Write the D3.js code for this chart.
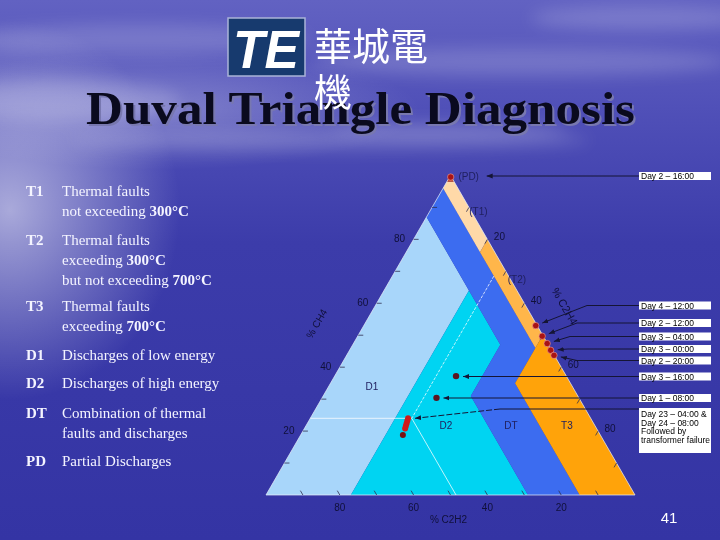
<!DOCTYPE html>
<html><head><meta charset="utf-8">
<script src="https://cdn.jsdelivr.net/npm/d3@7"></script>
<style>html,body{margin:0;padding:0;background:#3434a4;} svg{display:block;}</style>
</head><body>
<svg id="c" width="720" height="540"></svg>
<script>
// ---------------- DATA ----------------
const legendCodes = ["T1","T2","T3","D1","D2","DT","PD"];
const legendTexts = [
  ["Thermal faults","not exceeding |300°C"],
  ["Thermal faults","exceeding |300°C","but not exceeding |700°C"],
  ["Thermal faults","exceeding |700°C"],
  ["Discharges of low energy"],
  ["Discharges of high energy"],
  ["Combination of thermal","faults and discharges"],
  ["Partial Discharges"]
];
// Duval zones, vertices as [CH4 %, C2H4 %]  (C2H2 = 100 - CH4 - C2H4)
const zoneNames = ["D1","D2","DT","T1","T2","T3","PD"];
const zoneD1 = [[87,0],[0,0],[0,23],[64,23]];
const zoneD2 = [[64,23],[0,23],[0,71],[31,40],[47,40]];
const zoneDT = [[96,0],[87,0],[64,23],[47,40],[31,40],[0,71],[0,85],[35,50],[46,50]];
const zoneT1 = [[98,2],[80,20],[76,20],[96,0],[98,0]];
const zoneT2 = [[80,20],[50,50],[46,50],[76,20]];
const zoneT3 = [[50,50],[0,100],[0,85],[35,50]];
const zonePD = [[98,0],[100,0],[98,2]];
// overlay reference lines [CH4, C2H4]
const refLine1 = [[24,0],[24,27.5]];
const refLine2 = [[68.5,27.5],[24,27.5]];
const refLine3 = [[24,27.5],[0,51.5]];
// readings
const readingLabels = ["Day 2 – 16:00","Day 4 – 12:00","Day 2 – 12:00","Day 3 – 04:00","Day 3 – 00:00","Day 2 – 20:00","Day 3 – 16:00","Day 1 – 08:00"];
const readingCH4  = [99.5, 53.0, 49.7, 47.4, 45.3, 43.7, 37.2, 30.4];
const readingC2H4 = [0.3, 46.6, 50.0, 52.5, 54.5, 56.2, 32.9, 31.0];
const failureCH4  = [24.0, 23.2, 22.4, 21.6, 20.8, 18.8];
const failureC2H4 = [26.5, 26.7, 26.9, 27.1, 27.3, 27.7];
const failureLabel = ["Day 23 – 04:00 &","Day 24 – 08:00","Followed by","transformer failure"];
const axisTicks = [20,40,60,80];
const minorTicks = [10,20,30,40,50,60,70,80,90];

// ---------------- DRAW ----------------
const svg = d3.select("#c");
const defs = svg.append("defs");

// background
const bg = defs.append("linearGradient").attr("id","bg").attr("x1",0).attr("y1",0).attr("x2",0).attr("y2",1);
[[0,"#6262c2"],[0.2,"#5050b8"],[0.45,"#3c3caa"],[1,"#3434a4"]].forEach(s=>bg.append("stop").attr("offset",s[0]).attr("stop-color",s[1]));
const glow = defs.append("radialGradient").attr("id","glow");
glow.append("stop").attr("offset",0).attr("stop-color","#ffffff").attr("stop-opacity",0.55);
glow.append("stop").attr("offset",1).attr("stop-color","#ffffff").attr("stop-opacity",0);
defs.append("filter").attr("id","blur").attr("x","-50%").attr("y","-50%").attr("width","200%").attr("height","200%")
  .append("feGaussianBlur").attr("stdDeviation",8);
svg.append("rect").attr("width",720).attr("height",540).attr("fill","url(#bg)");
svg.append("ellipse").attr("cx",10).attr("cy",210).attr("rx",170).attr("ry",190).attr("fill","url(#glow)");
svg.append("ellipse").attr("cx",160).attr("cy",110).attr("rx",260).attr("ry",60).attr("fill","url(#glow)").attr("opacity",0.5);
const clouds = [[140,40,170,16],[520,62,210,14],[640,18,110,12],[330,140,260,10],[60,100,120,20],[450,130,120,8]];
svg.append("g").attr("filter","url(#blur)").selectAll("ellipse").data(clouds).join("ellipse")
  .attr("cx",d=>d[0]).attr("cy",d=>d[1]).attr("rx",d=>d[2]).attr("ry",d=>d[3])
  .attr("fill","#ffffff").attr("opacity",0.17);

// Title
const title = "Duval Triangle Diagnosis";
svg.append("text").attr("x",88).attr("y",126).attr("font-family","'Liberation Serif', serif").attr("font-weight","bold")
  .attr("font-size",46).attr("fill","#7878b0").attr("textLength",549).attr("lengthAdjust","spacingAndGlyphs").text(title);
svg.append("text").attr("x",86).attr("y",124).attr("font-family","'Liberation Serif', serif").attr("font-weight","bold")
  .attr("font-size",46).attr("fill","#0a0a1e").attr("textLength",549).attr("lengthAdjust","spacingAndGlyphs").text(title);

// Logo
svg.append("rect").attr("x",228).attr("y",18).attr("width",77).attr("height",58).attr("fill","#173a6e").attr("stroke","#aab4d8").attr("stroke-width",1.5);
svg.append("text").attr("x",266).attr("y",68).attr("text-anchor","middle").attr("font-family","'Liberation Sans', Arial").attr("font-weight","bold")
  .attr("font-style","italic").attr("font-size",54).attr("fill","#ffffff").attr("textLength",66).attr("lengthAdjust","spacingAndGlyphs").text("TE");
svg.append("text").attr("x",314).attr("y",60).attr("font-family","'Noto Sans CJK TC', sans-serif").attr("font-size",38).attr("fill","#ffffff").text("華城電");
svg.append("text").attr("x",314).attr("y",106).attr("font-family","'Noto Sans CJK TC', sans-serif").attr("font-size",38).attr("fill","#ffffff").text("機");

// Legend
const legG = svg.append("g").attr("font-family","'Liberation Serif', serif").attr("font-size",15).attr("fill","#f4f4ff");
const legY = [196,245,311,360,388,418,466];
legendCodes.forEach((c,i)=>{
  legG.append("text").attr("x",26).attr("y",legY[i]).attr("font-weight","bold").text(c);
  legendTexts[i].forEach((line,j)=>{
    const t = legG.append("text").attr("x",62).attr("y",legY[i]+j*20);
    const parts = line.split("|");
    t.append("tspan").text(parts[0]);
    if(parts[1]) t.append("tspan").attr("font-weight","bold").text(parts[1]);
  });
});

// Ternary projection
const L=266, R=635, B=495, W=R-L, H=W*Math.sqrt(3)/2;
const xs = d3.scaleLinear().domain([0,100]).range([L,R]);
const ys = d3.scaleLinear().domain([0,100]).range([B,B-H]);
const proj = (ch4,c2h4) => [xs(c2h4 + ch4/2), ys(ch4)];
const line = d3.line().x(d=>proj(d[0],d[1])[0]).y(d=>proj(d[0],d[1])[1]);

const zones = [zoneD1,zoneD2,zoneDT,zoneT1,zoneT2,zoneT3,zonePD];
const zoneColors = {D1:"#a8d6fa",D2:"#00d4f2",DT:"#3c6cf0",T1:"#ffd9a8",T2:"#ffb64a",T3:"#ffa30a",PD:"#c8502a"};
const tri = svg.append("g");
tri.selectAll("path.zone").data(zones).join("path").attr("class","zone")
  .attr("d",d=>line(d)+"Z").attr("fill",(d,i)=>zoneColors[zoneNames[i]]);

// faint reference lines
[refLine1,refLine2,refLine3].forEach((l,i)=>{
  tri.append("path").attr("d",line(l)).attr("fill","none").attr("stroke","#ffffff").attr("stroke-width",1)
    .attr("opacity",0.75).attr("stroke-dasharray",i==1?"3,1.5":null);
});

// triangle border
tri.append("path").attr("d",line([[100,0],[0,100],[0,0]])+"Z").attr("fill","none").attr("stroke","#e8eef8").attr("stroke-width",0.9).attr("opacity",0.8);

// ticks
const tickG = svg.append("g").attr("stroke","#303050").attr("stroke-width",0.8);
const tl = 5;
minorTicks.forEach(v=>{
  let p = proj(v,0); tickG.append("line").attr("x1",p[0]).attr("y1",p[1]).attr("x2",p[0]+tl).attr("y2",p[1]);
  p = proj(100-v,v); tickG.append("line").attr("x1",p[0]).attr("y1",p[1]).attr("x2",p[0]-tl*0.5).attr("y2",p[1]+tl*0.866);
  p = proj(0,100-v); tickG.append("line").attr("x1",p[0]).attr("y1",p[1]).attr("x2",p[0]-tl*0.5).attr("y2",p[1]-tl*0.866);
});
const labG = svg.append("g").attr("font-family","'Liberation Sans', Arial").attr("font-size",10).attr("fill","#10103a").attr("text-anchor","middle");
axisTicks.forEach(v=>{
  let p = proj(v,0); labG.append("text").attr("x",p[0]-14).attr("y",p[1]+3).text(v);
  p = proj(100-v,v); labG.append("text").attr("x",p[0]+12).attr("y",p[1]+1).text(v);
  p = proj(0,100-v); labG.append("text").attr("x",p[0]).attr("y",p[1]+16).text(v);
});
// axis titles
let p = proj(54,0);
labG.append("text").attr("transform",`translate(${p[0]-46},${p[1]+3}) rotate(-60)`).text("% CH4");
p = proj(59.4,40.6);
labG.append("text").attr("transform",`translate(${p[0]+36},${p[1]+3}) rotate(60)`).attr("font-size",11).text("% C2H4");
p = proj(0,50);
labG.append("text").attr("x",p[0]-2).attr("y",p[1]+28).text("% C2H2");

// zone labels (ternary positions)
const zoneLabelPos = [["D1",34,11.7],["D2",21.9,37.8],["DT",21.9,55.4],["T3",21.9,70.6],["(T1)",88.9,13.1],["(T2)",67.6,34.2]];
zoneLabelPos.forEach(z=>{
  const q = proj(z[1],z[2]);
  labG.append("text").attr("x",q[0]).attr("y",q[1]+4).attr("fill","#202060").text(z[0]);
});
const pdp = proj(readingCH4[0],readingC2H4[0]);
labG.append("text").attr("x",pdp[0]+18).attr("y",pdp[1]+3).attr("fill","#202060").text("(PD)");

// arrows + callouts
defs.append("marker").attr("id","arr").attr("viewBox","0 0 10 10").attr("refX",10).attr("refY",5)
  .attr("markerWidth",6).attr("markerHeight",6).attr("orient","auto")
  .append("path").attr("d","M0,1 L10,5 L0,9 Z").attr("fill","#151535");
const boxX = 639, boxW = 72, boxH = 8;
const calloutY = [176,305.5,323,336.5,349,360.5,376.5,398];
const elbowX = [null,587,577,570,568,577,null,null];
const gapPx = [36,7,7,7,7,7,7,7];
const arrG = svg.append("g");
const boxG = svg.append("g").attr("font-family","'Liberation Sans', Arial").attr("font-size",8.5).attr("fill","#000");
readingLabels.forEach((lab,i)=>{
  const d = proj(readingCH4[i],readingC2H4[i]);
  const by = calloutY[i];
  let pts;
  if(elbowX[i]==null){
    pts = [[boxX,by],[d[0]+gapPx[i],by]];
  } else {
    const dx = elbowX[i]-d[0], dy = by-d[1], n = Math.hypot(dx,dy);
    pts = [[boxX,by],[elbowX[i],by],[d[0]+dx/n*gapPx[i], d[1]+dy/n*gapPx[i]]];
  }
  arrG.append("path").attr("d",d3.line()(pts)).attr("fill","none").attr("stroke","#151535").attr("stroke-width",1).attr("marker-end","url(#arr)");
  boxG.append("rect").attr("x",boxX).attr("y",by-boxH/2).attr("width",boxW).attr("height",boxH).attr("fill","#ffffff");
  boxG.append("text").attr("x",boxX+2).attr("y",by+3).text(lab);
});
// failure callout
const f0 = proj(failureCH4[0],failureC2H4[0]);
arrG.append("path").attr("d",d3.line()([[boxX,409],[500,409]])).attr("fill","none").attr("stroke","#151535").attr("stroke-width",1);
arrG.append("path").attr("d",d3.line()([[500,409],[f0[0]+7,f0[1]]])).attr("fill","none").attr("stroke","#151535").attr("stroke-width",1)
  .attr("stroke-dasharray","6,2").attr("marker-end","url(#arr)");
boxG.append("rect").attr("x",boxX).attr("y",408).attr("width",boxW).attr("height",45).attr("fill","#ffffff");
failureLabel.forEach((t,j)=>boxG.append("text").attr("x",boxX+2).attr("y",417+j*8.5).text(t));

// points
const ptG = svg.append("g");
failureCH4.forEach((c,i)=>{
  const q = proj(c,failureC2H4[i]);
  ptG.append("circle").attr("cx",q[0]).attr("cy",q[1]).attr("r",3).attr("fill",i==failureCH4.length-1?"#7a1010":"#d01a1a");
});
readingCH4.forEach((c,i)=>{
  const q = proj(c,readingC2H4[i]);
  const dark = (i>=6);
  ptG.append("circle").attr("cx",q[0]).attr("cy",q[1]).attr("r",3.2)
    .attr("fill",dark?"#5a1420":"#a81414").attr("stroke",dark?"none":"#f0a0a0").attr("stroke-width",0.6);
});

// slide number
svg.append("text").attr("x",669).attr("y",523).attr("text-anchor","middle").attr("font-family","'Liberation Sans', Arial").attr("font-size",15).attr("fill","#ffffff").text("41");
</script>
</body></html>
